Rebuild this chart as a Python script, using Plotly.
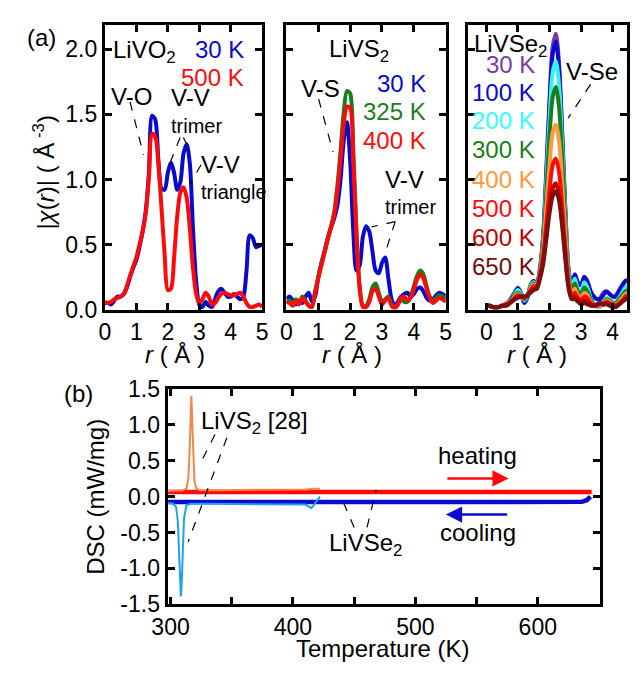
import plotly.graph_objects as go

# ---------------- data ----------------
r_a = [round(0.1 * i, 1) for i in range(51)]          # 0.0 .. 5.0
r_se = [round(0.1 * i, 1) for i in range(46)]         # 0.0 .. 4.5

livo2_30K = [0.05, 0.05, 0.04, 0.07, 0.10, 0.10, 0.12, 0.17, 0.25, 0.32,
             0.38, 0.48, 0.60, 0.76, 1.05, 1.49, 1.46, 1.15, 0.93, 0.92,
             1.05, 1.13, 1.05, 0.92, 0.98, 1.20, 1.27, 1.12, 0.62, 0.22,
             0.04, 0.02, 0.06, 0.03, 0.02, 0.08, 0.14, 0.16, 0.13, 0.10,
             0.10, 0.12, 0.10, 0.08, 0.10, 0.30, 0.57, 0.55, 0.48, 0.49, 0.50]
livo2_500K = [0.06, 0.05, 0.06, 0.08, 0.09, 0.10, 0.12, 0.18, 0.26, 0.33,
              0.40, 0.50, 0.60, 0.74, 1.02, 1.35, 1.33, 1.12, 0.78, 0.42,
              0.15, 0.16, 0.40, 0.72, 0.90, 0.94, 0.86, 0.62, 0.32, 0.12,
              0.05, 0.08, 0.13, 0.10, 0.04, 0.05, 0.09, 0.12, 0.13, 0.12,
              0.11, 0.11, 0.12, 0.13, 0.10, 0.05, 0.02, 0.02, 0.03, 0.04, 0.02]

livs2_30K = [0.08, 0.10, 0.07, 0.04, 0.07, 0.05, 0.10, 0.13, 0.06, 0.10,
             0.25, 0.36, 0.45, 0.55, 0.63, 0.70, 0.80, 1.00, 1.30, 1.44,
             1.15, 0.60, 0.30, 0.34, 0.56, 0.64, 0.60, 0.45, 0.30, 0.28,
             0.36, 0.40, 0.24, 0.08, 0.03, 0.06, 0.10, 0.12, 0.13, 0.10,
             0.12, 0.16, 0.17, 0.14, 0.09, 0.07, 0.08, 0.11, 0.13, 0.12, 0.10]
livs2_325K = [0.05, 0.07, 0.04, 0.08, 0.05, 0.10, 0.07, 0.03, 0.02, 0.14,
              0.25, 0.35, 0.45, 0.55, 0.64, 0.75, 0.95, 1.22, 1.52, 1.68,
              1.66, 1.22, 0.60, 0.18, 0.03, 0.03, 0.08, 0.17, 0.20, 0.13,
              0.06, 0.08, 0.10, 0.04, 0.02, 0.04, 0.08, 0.06, 0.06, 0.10,
              0.18, 0.26, 0.30, 0.27, 0.18, 0.10, 0.07, 0.09, 0.11, 0.10, 0.08]
livs2_400K = [0.06, 0.05, 0.03, 0.07, 0.04, 0.09, 0.06, 0.03, 0.02, 0.13,
              0.24, 0.34, 0.44, 0.54, 0.63, 0.73, 0.92, 1.16, 1.43, 1.56,
              1.55, 1.15, 0.56, 0.16, 0.02, 0.02, 0.06, 0.14, 0.16, 0.10,
              0.04, 0.07, 0.09, 0.03, 0.01, 0.04, 0.09, 0.10, 0.07, 0.09,
              0.16, 0.23, 0.27, 0.24, 0.16, 0.09, 0.05, 0.07, 0.09, 0.08, 0.06]

livse2_temps = ["30 K", "100 K", "200 K", "300 K", "400 K", "500 K", "600 K", "650 K"]
livse2_30K = [0.03, 0.03, 0.02, 0.01, 0.02, 0.03, 0.04, 0.06, 0.09, 0.13,
              0.17, 0.13, 0.06, 0.10, 0.19, 0.22, 0.20, 0.32, 0.58, 1.08,
              1.62, 2.02, 2.12, 1.90, 1.38, 0.78, 0.32, 0.18, 0.27, 0.21,
              0.19, 0.25, 0.22, 0.14, 0.10, 0.08, 0.09, 0.13, 0.14, 0.12,
              0.10, 0.11, 0.15, 0.19, 0.22, 0.23]
livse2_100K = [0.03, 0.03, 0.02, 0.01, 0.02, 0.03, 0.04, 0.06, 0.09, 0.13,
               0.16, 0.12, 0.05, 0.09, 0.18, 0.22, 0.20, 0.31, 0.56, 1.04,
               1.56, 1.96, 2.06, 1.85, 1.34, 0.76, 0.31, 0.18, 0.27, 0.20,
               0.19, 0.25, 0.21, 0.14, 0.10, 0.08, 0.08, 0.11, 0.14, 0.12,
               0.10, 0.10, 0.14, 0.18, 0.22, 0.22]
livse2_200K = [0.03, 0.03, 0.02, 0.02, 0.02, 0.03, 0.04, 0.06, 0.08, 0.12,
               0.15, 0.12, 0.07, 0.10, 0.18, 0.21, 0.20, 0.30, 0.53, 0.98,
               1.46, 1.82, 1.91, 1.73, 1.27, 0.73, 0.30, 0.16, 0.24, 0.16,
               0.14, 0.21, 0.17, 0.09, 0.04, 0.02, 0.02, 0.05, 0.09, 0.08,
               0.06, 0.06, 0.09, 0.13, 0.17, 0.18]
livse2_300K = [0.03, 0.03, 0.02, 0.02, 0.02, 0.03, 0.04, 0.05, 0.08, 0.11,
               0.13, 0.11, 0.08, 0.10, 0.17, 0.20, 0.19, 0.30, 0.50, 0.90,
               1.33, 1.63, 1.71, 1.56, 1.16, 0.68, 0.27, 0.14, 0.20, 0.14,
               0.12, 0.17, 0.14, 0.08, 0.04, 0.03, 0.03, 0.05, 0.08, 0.07,
               0.05, 0.05, 0.08, 0.11, 0.14, 0.15]
livse2_400K = [0.03, 0.03, 0.02, 0.02, 0.02, 0.03, 0.04, 0.05, 0.07, 0.10,
               0.12, 0.10, 0.09, 0.11, 0.16, 0.19, 0.19, 0.28, 0.45, 0.78,
               1.10, 1.36, 1.42, 1.30, 0.97, 0.58, 0.24, 0.12, 0.16, 0.11,
               0.09, 0.13, 0.11, 0.06, 0.03, 0.03, 0.03, 0.04, 0.07, 0.06,
               0.04, 0.04, 0.06, 0.09, 0.12, 0.13]
livse2_500K = [0.03, 0.03, 0.02, 0.02, 0.02, 0.03, 0.04, 0.05, 0.07, 0.09,
               0.11, 0.10, 0.09, 0.11, 0.15, 0.18, 0.18, 0.27, 0.41, 0.66,
               0.92, 1.11, 1.16, 1.06, 0.80, 0.48, 0.21, 0.10, 0.13, 0.09,
               0.07, 0.10, 0.09, 0.05, 0.03, 0.03, 0.04, 0.04, 0.06, 0.05,
               0.04, 0.03, 0.05, 0.07, 0.10, 0.11]
livse2_600K = [0.03, 0.03, 0.02, 0.02, 0.02, 0.03, 0.03, 0.04, 0.06, 0.08,
               0.10, 0.10, 0.10, 0.11, 0.14, 0.16, 0.17, 0.25, 0.37, 0.57,
               0.78, 0.93, 0.97, 0.89, 0.68, 0.41, 0.18, 0.09, 0.10, 0.07,
               0.05, 0.07, 0.06, 0.04, 0.03, 0.04, 0.05, 0.04, 0.05, 0.04,
               0.03, 0.03, 0.04, 0.06, 0.08, 0.09]
livse2_650K = [0.03, 0.03, 0.02, 0.02, 0.02, 0.03, 0.03, 0.04, 0.06, 0.08,
               0.09, 0.10, 0.10, 0.11, 0.13, 0.15, 0.16, 0.24, 0.35, 0.54,
               0.74, 0.87, 0.91, 0.84, 0.64, 0.39, 0.17, 0.08, 0.08, 0.06,
               0.04, 0.05, 0.04, 0.03, 0.03, 0.04, 0.05, 0.04, 0.04, 0.03,
               0.02, 0.02, 0.04, 0.06, 0.08, 0.09]
livse2_series = [livse2_30K, livse2_100K, livse2_200K, livse2_300K,
                 livse2_400K, livse2_500K, livse2_600K, livse2_650K]

# DSC
T_se_heat = [298, 340, 380, 420, 460, 500, 540, 580, 620, 644]
dsc_se_heat = [0.065, 0.066, 0.065, 0.064, 0.065, 0.065, 0.064, 0.065, 0.064, 0.065]
T_se_cool = [298, 340, 380, 420, 460, 500, 540, 580, 620, 636, 640, 643]
dsc_se_cool = [-0.075, -0.074, -0.075, -0.076, -0.075, -0.075, -0.074, -0.075,
               -0.075, -0.073, -0.05, 0.0]
T_s_heat = [298, 305, 310, 313, 314.5, 315.5, 316.3, 317, 317.7, 318.5, 319.5,
            321, 324, 340, 360, 380, 400, 410, 418, 422]
dsc_s_heat = [0.08, 0.08, 0.09, 0.11, 0.25, 0.60, 1.05, 1.40, 1.05, 0.55, 0.22,
              0.11, 0.09, 0.09, 0.09, 0.09, 0.10, 0.10, 0.11, 0.11]
T_s_cool = [298, 302, 304.5, 306, 307, 307.8, 308.4, 309, 309.8, 311, 313, 316,
            330, 360, 390, 405, 410, 413, 415, 417, 420, 422]
dsc_s_cool = [-0.09, -0.10, -0.14, -0.35, -0.80, -1.20, -1.39, -1.25, -0.80, -0.30,
              -0.12, -0.10, -0.10, -0.10, -0.10, -0.10, -0.11, -0.14, -0.16, -0.12,
              -0.05, 0.0]

# ---------------- styling ----------------
FONT = "Liberation Sans, Arial, sans-serif"
W, H = 641, 675
BLUE = "#0a0acc"
RED = "#ff0a0a"
GREEN = "#1a7f1a"
se_colors = ["#7a3aa6", "#0a0acc", "#33f5f0", "#1a7f1a", "#ff9a3c", "#ff0a0a", "#c00000", "#7a1010"]
se_label_colors = ["#7a3aa6", "#0a0acc", "#33ffff", "#1a7f1a", "#ff9a3c", "#ff0a0a", "#c00000", "#6e1010"]
TS = 23   # tick label size
LS = 24   # label size
SS = 20   # small label size


def px(x):
    return x / W


def py(y):
    return 1 - y / H


fig = go.Figure()


def line_tr(x, y, color, width, xa, ya, shape="spline"):
    fig.add_trace(go.Scatter(x=x, y=y, mode="lines", xaxis=xa, yaxis=ya,
                             line=dict(color=color, width=width, shape=shape, smoothing=0.8),
                             showlegend=False, hoverinfo="skip"))


line_tr(r_a, livo2_30K, BLUE, 4, "x", "y")
line_tr(r_a, livo2_500K, RED, 4, "x", "y")
line_tr(r_a, livs2_30K, BLUE, 4, "x2", "y2")
line_tr(r_a, livs2_325K, GREEN, 4, "x2", "y2")
line_tr(r_a, livs2_400K, RED, 4, "x2", "y2")
for ys, c in zip(livse2_series, se_colors):
    line_tr(r_se, ys, c, 4, "x3", "y3")

line_tr(T_se_heat, dsc_se_heat, RED, 4.5, "x4", "y4", "linear")
line_tr(T_se_cool, dsc_se_cool, "#0a0ad0", 4.5, "x4", "y4", "linear")
line_tr(T_s_heat, dsc_s_heat, "#f5834a", 2, "x4", "y4", "linear")
line_tr(T_s_cool, dsc_s_cool, "#1ea3ea", 2, "x4", "y4", "linear")

axis_common = dict(showline=True, linecolor="black", linewidth=3, mirror="ticks",
                   ticks="inside", ticklen=7, tickwidth=3, tickcolor="black",
                   showgrid=False, zeroline=False,
                   tickfont=dict(family=FONT, size=TS, color="black"))

top_dom = [py(308.5), py(12)]
layout = dict(
    width=W, height=H, margin=dict(l=0, r=0, t=0, b=0),
    paper_bgcolor="white", plot_bgcolor="white",
    font=dict(family=FONT, color="black"),
    xaxis=dict(domain=[px(92), px(255)], range=[0, 5], anchor="y",
               tickvals=[0, 1, 2, 3, 4, 5], **axis_common),
    yaxis=dict(domain=top_dom, range=[0, 2.19], anchor="x",
               tickvals=[0, 0.5, 1.0, 1.5, 2.0], ticktext=["0.0", "0.5", "1.0", "1.5", "2.0"],
               **axis_common),
    xaxis2=dict(domain=[px(280), px(445)], range=[0, 5], anchor="y2",
                tickvals=[0, 1, 2, 3, 4, 5], **axis_common),
    yaxis2=dict(domain=top_dom, range=[0, 2.19], anchor="x2",
                tickvals=[0, 0.5, 1.0, 1.5, 2.0], showticklabels=False, **axis_common),
    xaxis3=dict(domain=[px(468), px(633)], range=[-0.58, 4.46], anchor="y3",
                tickvals=[0, 1, 2, 3, 4], **axis_common),
    yaxis3=dict(domain=top_dom, range=[0, 2.19], anchor="x3",
                tickvals=[0, 0.5, 1.0, 1.5, 2.0], showticklabels=False, **axis_common),
    xaxis4=dict(domain=[px(157), px(605)], range=[297.6, 651], anchor="y4",
                tickvals=[300, 400, 500, 600],
                minor=dict(tickvals=[350, 450, 550], ticks="inside", ticklen=7,
                           tickwidth=3, tickcolor="black"),
                **axis_common),
    yaxis4=dict(domain=[py(615), py(391)], range=[-1.5, 1.5], anchor="x4",
                tickvals=[-1.5, -1.0, -0.5, 0, 0.5, 1.0, 1.5],
                ticktext=["-1.5", "-1.0", "-0.5", "0.0", "0.5", "1.0", "1.5"],
                **axis_common),
)
fig.update_layout(**layout)

ann = []


def txt(text, x, y, xref="paper", yref="paper", size=LS, color="black",
        xanchor="center", angle=0):
    ann.append(dict(text=text, x=x, y=y, xref=xref, yref=yref, showarrow=False,
                    xanchor=xanchor, yanchor="middle", textangle=angle,
                    font=dict(family=FONT, size=size, color=color)))


# panel labels and axis titles
txt("(a)", px(26), py(25))
txt("(b)", px(65), py(396))
txt("|<i>χ</i>(<i>r</i>)| ( Å<sup> -3</sup>)", px(29), py(166), angle=-90)
for cx in (165, 348, 540):
    txt("<i>r</i> ( Å )", px(cx), py(355))
txt("DSC (mW/mg)", px(82), py(503), angle=-90)
txt("Temperature (K)", px(380), py(661))

# panel 1
txt("LiVO<sub>2</sub>", 1.26, 1.98, "x", "y")
txt("30 K", 4.48, 2.0, "x", "y", color=BLUE, xanchor="right")
txt("500 K", 4.48, 1.78, "x", "y", color=RED, xanchor="right")
txt("V-O", 0.86, 1.64, "x", "y")
txt("V-V", 2.73, 1.633, "x", "y")
txt("trimer", 2.91, 1.41, "x", "y", size=SS)
txt("V-V", 3.68, 1.115, "x", "y")
txt("triangle", 4.11, 0.907, "x", "y", size=SS)
# panel 2
txt("LiVS<sub>2</sub>", 2.27, 1.99, "x2", "y2")
txt("V-S", 1.06, 1.70, "x2", "y2")
txt("30 K", 4.45, 1.737, "x2", "y2", color=BLUE, xanchor="right")
txt("325 K", 4.45, 1.52, "x2", "y2", color=GREEN, xanchor="right")
txt("400 K", 4.45, 1.30, "x2", "y2", color=RED, xanchor="right")
txt("V-V", 3.70, 0.996, "x2", "y2")
txt("trimer", 3.88, 0.789, "x2", "y2", size=SS)
# panel 3
txt("LiVSe<sub>2</sub>", 0.76, 2.03, "x3", "y3")
for lab, c, yy in zip(livse2_temps, se_label_colors,
                      [1.885, 1.67, 1.456, 1.233, 0.996, 0.774, 0.552, 0.33]):
    txt(lab, 1.62, yy, "x3", "y3", color=c, xanchor="right")
txt("V-Se", 3.36, 1.833, "x3", "y3")
# panel b
txt("LiVS<sub>2</sub> [28]", 368.7, 1.03, "x4", "y4")
txt("heating", 551, 0.576, "x4", "y4")
txt("cooling", 551, -0.496, "x4", "y4")
txt("LiVSe<sub>2</sub>", 459.4, -0.67, "x4", "y4")

# arrows
ann.append(dict(x=576.2, y=0.254, ax=524.9, ay=0.254, xref="x4", yref="y4",
                axref="x4", ayref="y4", text="", showarrow=True, arrowhead=2,
                arrowsize=1.3, arrowwidth=2.5, arrowcolor=RED, standoff=0))
ann.append(dict(x=524.9, y=-0.25, ax=576.2, ay=-0.25, xref="x4", yref="y4",
                axref="x4", ayref="y4", text="", showarrow=True, arrowhead=2,
                arrowsize=1.3, arrowwidth=2.5, arrowcolor="#0a0ad0", standoff=0))
fig.update_layout(annotations=ann)

# dashed leader lines
shapes = []


def dline(x0, y0, x1, y1, xr, yr):
    shapes.append(dict(type="line", x0=x0, y0=y0, x1=x1, y1=y1, xref=xr, yref=yr,
                       line=dict(color="black", width=1.2, dash="dash")))


dline(0.80, 1.596, 1.227, 1.189, "x", "y")
dline(2.393, 1.322, 2.086, 1.137, "x", "y")
dline(2.494, 1.322, 2.598, 1.273, "x", "y")
dline(3.058, 1.113, 2.70, 0.964, "x", "y")
dline(1.01, 1.619, 1.464, 1.211, "x2", "y2")
dline(3.415, 0.676, 2.676, 0.636, "x2", "y2")
dline(3.415, 0.676, 3.112, 0.446, "x2", "y2")
dline(3.298, 1.73, 2.586, 1.47, "x3", "y3")
dline(336.3, 0.866, 323.1, 0.419, "x4", "y4")
dline(346.0, 0.821, 314.4, -0.629, "x4", "y4")
dline(450.0, -0.429, 441.5, -0.094, "x4", "y4")
dline(460.5, -0.429, 467.9, 0.094, "x4", "y4")
fig.update_layout(shapes=shapes)

fig.write_html("out.html")
